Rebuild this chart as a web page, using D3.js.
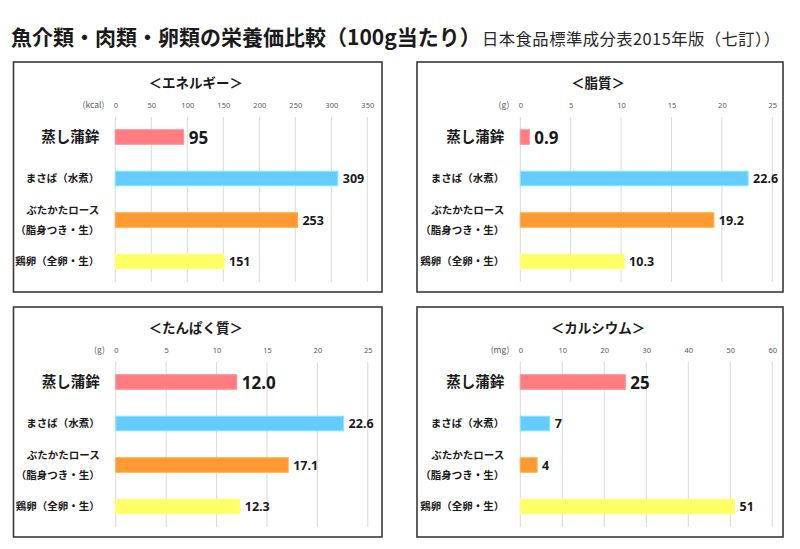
<!DOCTYPE html>
<html><head><meta charset="utf-8">
<script src="https://cdn.jsdelivr.net/npm/d3@7"></script>
<style>
html,body{margin:0;padding:0;background:#fff;}
svg{display:block;font-family:"Noto Sans CJK JP","Noto Sans",sans-serif;}
</style></head>
<body><svg id="c" width="800" height="549"></svg>
<script>
// ---- data ----
const categories = ["蒸し蒲鉾", "まさば（水煮）", "ぶたかたロース\n（脂身つき・生）", "鶏卵（全卵・生）"];
const barColors = ["#FF7C80", "#66CCFF", "#FF9933", "#FFFF66"];
const energy = [95, 309, 253, 151];
const fat = [0.9, 22.6, 19.2, 10.3];
const protein = [12.0, 22.6, 17.1, 12.3];
const calcium = [25, 7, 4, 51];
const panelTitles = ["＜エネルギー＞", "＜脂質＞", "＜たんぱく質＞", "＜カルシウム＞"];
const units = ["(kcal)", "(g)", "(g)", "(mg)"];
const axisMax = [350, 25, 25, 60];
const axisTicks = [[0,50,100,150,200,250,300,350],[0,5,10,15,20,25],[0,5,10,15,20,25],[0,10,20,30,40,50,60]];
const decimals = [0, 1, 1, 0];
const seriesList = [energy, fat, protein, calcium];

const mainTitle = "魚介類・肉類・卵類の栄養価比較（100g当たり）";
const subTitle = "日本食品標準成分表2015年版（七訂））";

// ---- layout ----
const svg = d3.select("#c");
const frames = [
  {x:13.5, y:62, w:368.5, h:230, x0:101.8},
  {x:417, y:62, w:366, h:230, x0:103.3},
  {x:13.5, y:307, w:368.5, h:230, x0:102.3},
  {x:417, y:307, w:366, h:230, x0:103.3}
];
const plotW = 252;

svg.append("text").attr("x", 11).attr("y", 45)
  .attr("font-size", 21).attr("font-weight", "bold").attr("fill", "#1a1a1a").text(mainTitle);
svg.append("text").attr("x", 482).attr("y", 44.5)
  .attr("font-size", 16.3).attr("letter-spacing", 0.5).attr("fill", "#262626").text(subTitle);

seriesList.forEach((vals, p) => {
  const f = frames[p];
  const g = svg.append("g").attr("transform", `translate(${f.x},${f.y})`);
  g.append("rect").attr("x", 0).attr("y", 0).attr("width", f.w).attr("height", f.h)
    .attr("fill", "#fff").attr("stroke", "#3a3a3a").attr("stroke-width", 1.6);

  g.append("text").attr("x", f.w/2 - 2).attr("y", 20).attr("text-anchor", "middle")
    .attr("dominant-baseline", "central").attr("font-size", 13.5).attr("font-weight", "bold")
    .attr("fill", "#1a1a1a").text(panelTitles[p]);

  const x = d3.scaleLinear().domain([0, axisMax[p]]).range([f.x0, f.x0 + plotW]);
  const y = d3.scaleBand().domain(d3.range(categories.length))
    .range([54.25, 220.25]).paddingInner(0.65).paddingOuter(0.325);

  // gridlines
  g.append("g").selectAll("line").data(axisTicks[p]).join("line")
    .attr("x1", d => x(d)).attr("x2", d => x(d)).attr("y1", 55).attr("y2", 220)
    .attr("stroke", "#d9d9d9").attr("stroke-width", 1);

  // top axis labels
  const ax = g.append("g").attr("transform", "translate(0,46)")
    .call(d3.axisTop(x).tickValues(axisTicks[p]).tickSize(0).tickPadding(0));
  ax.select(".domain").remove();
  ax.selectAll("text").attr("font-size", 7.5).attr("fill", "#595959")
    .attr("font-family", "'Noto Sans','DejaVu Sans',sans-serif");

  g.append("text").attr("x", f.x0 - 11).attr("y", 42).attr("text-anchor", "end")
    .attr("dominant-baseline", "central").attr("font-size", 8.5).attr("fill", "#595959")
    .text(units[p]);

  // bars
  g.append("g").selectAll("rect").data(vals).join("rect")
    .attr("x", x(0)).attr("y", (d, i) => y(i))
    .attr("width", d => x(d) - x(0)).attr("height", y.bandwidth())
    .attr("fill", (d, i) => barColors[i])
    .attr("stroke", (d, i) => d3.color(barColors[i]).brighter(0.4)).attr("stroke-width", 1);

  // value labels
  g.append("g").selectAll("text").data(vals).join("text")
    .attr("x", d => x(d) + 5).attr("y", (d, i) => y(i) + y.bandwidth()/2)
    .attr("dominant-baseline", "central")
    .attr("font-size", (d, i) => i === 0 ? 17 : 12.5).attr("font-weight", "bold")
    .attr("fill", "#1a1a1a")
    .attr("font-family", "'Noto Sans','DejaVu Sans',sans-serif")
    .text(d => d.toFixed(decimals[p]));

  // category labels
  const cl = g.append("g").selectAll("text").data(categories).join("text")
    .attr("x", f.x0 - 16).attr("y", (d, i) => y(i) + y.bandwidth()/2)
    .attr("text-anchor", "end").attr("font-weight", "bold").attr("fill", "#1a1a1a")
    .attr("font-size", (d, i) => i === 0 ? 14.5 : 10.5);
  cl.each(function(d, i) {
    const lines = d.split("\n");
    const t = d3.select(this);
    lines.forEach((ln, k) => {
      t.append("tspan").attr("x", f.x0 - 16)
        .attr("dy", k === 0 ? (lines.length > 1 ? "-0.6em" : "0.35em") : "1.9em")
        .text(ln);
    });
  });
});
</script></body></html>
